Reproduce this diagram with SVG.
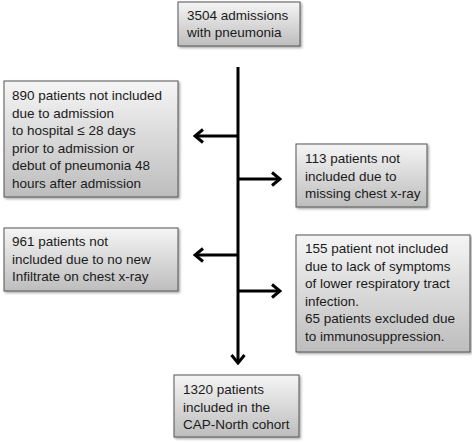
<svg xmlns="http://www.w3.org/2000/svg" width="472" height="443" viewBox="0 0 472 443">
<defs>
<linearGradient id="g" x1="0" y1="0" x2="0" y2="1">
<stop offset="0" stop-color="#f5f5f5"/>
<stop offset="1" stop-color="#bdbdbd"/>
</linearGradient>
<filter id="sh" x="-10%" y="-10%" width="130%" height="130%">
<feDropShadow dx="1.5" dy="1.5" stdDeviation="1" flood-color="#000" flood-opacity="0.35"/>
</filter>
<marker id="ah" viewBox="0 0 12 16" refX="10" refY="8" markerWidth="12" markerHeight="16" markerUnits="userSpaceOnUse" orient="auto">
<path d="M2,1.5 L10,8 L2,14.5" fill="none" stroke="#000" stroke-width="3"/>
</marker>
<style>
.box{fill:url(#g);stroke:#555;stroke-width:1;filter:url(#sh)}
.t{font-family:"Liberation Sans",Arial,sans-serif;font-size:13.5px;fill:#1a1a1a}
.ln{stroke:#000;stroke-width:3;fill:none}
</style>
</defs>
<g id="connectors">
<line class="ln" x1="238" y1="67" x2="238" y2="363" marker-end="url(#ah)"/>
<line class="ln" x1="238" y1="136" x2="195" y2="136" marker-end="url(#ah)"/>
<line class="ln" x1="238" y1="179" x2="280" y2="179" marker-end="url(#ah)"/>
<line class="ln" x1="238" y1="255" x2="195" y2="255" marker-end="url(#ah)"/>
<line class="ln" x1="238" y1="291" x2="280" y2="291" marker-end="url(#ah)"/>
</g>
<g id="n0">
<rect class="box" x="178" y="2" width="122" height="44"/>
<text class="t" x="187" y="20">3504 admissions</text>
<text class="t" x="187" y="37">with pneumonia</text>
</g>
<g id="n1">
<rect class="box" x="4" y="81" width="174" height="116"/>
<text class="t" x="12" y="100">890 patients not included</text>
<text class="t" x="12" y="117.5">due to admission</text>
<text class="t" x="12" y="135">to hospital ≤ 28 days</text>
<text class="t" x="12" y="152.5">prior to admission or</text>
<text class="t" x="12" y="170">debut of pneumonia  48</text>
<text class="t" x="12" y="187.5">hours after admission</text>
</g>
<g id="n2">
<rect class="box" x="296" y="144" width="131" height="63"/>
<text class="t" x="305" y="163">113 patients not</text>
<text class="t" x="305" y="180.5">included due to</text>
<text class="t" x="305" y="198">missing chest x-ray</text>
</g>
<g id="n3">
<rect class="box" x="4" y="228" width="174" height="63"/>
<text class="t" x="12" y="246">961 patients not</text>
<text class="t" x="12" y="263.5">included due to no new</text>
<text class="t" x="12" y="281">Infiltrate on chest x-ray</text>
</g>
<g id="n4">
<rect class="box" x="296" y="235" width="174" height="117"/>
<text class="t" x="305" y="253">155 patient not included</text>
<text class="t" x="305" y="270.5">due to lack of symptoms</text>
<text class="t" x="305" y="288">of lower respiratory tract</text>
<text class="t" x="305" y="305.5">infection.</text>
<text class="t" x="305" y="323">65 patients excluded due</text>
<text class="t" x="305" y="340.5">to immunosuppression.</text>
</g>
<g id="n5">
<rect class="box" x="174" y="375" width="125" height="62"/>
<text class="t" x="183" y="394">1320 patients</text>
<text class="t" x="183" y="411.5">included in the</text>
<text class="t" x="183" y="429">CAP-North  cohort</text>
</g>
</svg>
